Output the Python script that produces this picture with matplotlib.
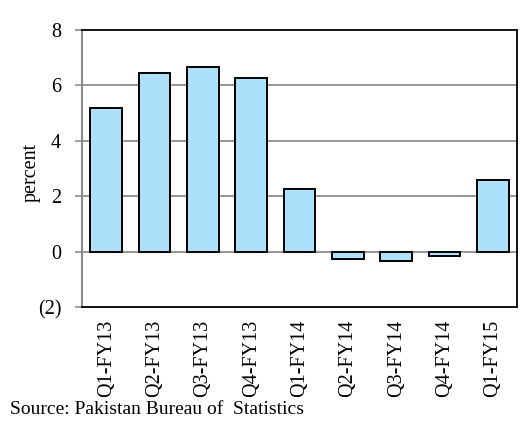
import matplotlib
matplotlib.use("Agg")
import matplotlib.pyplot as plt

quarters = ["Q1-FY13", "Q2-FY13", "Q3-FY13", "Q4-FY13", "Q1-FY14",
            "Q2-FY14", "Q3-FY14", "Q4-FY14", "Q1-FY15"]
growth = [5.2, 6.45, 6.65, 6.25, 2.25, -0.28, -0.35, -0.15, 2.6]
ytick_values = [-2, 0, 2, 4, 6, 8]
ytick_labels = ["(2)", "0", "2", "4", "6", "8"]

plt.rcParams["font.family"] = ["Liberation Serif", "DejaVu Serif"]

fig = plt.figure(figsize=(5.27, 4.21), dpi=100)
ax = fig.add_axes([0.1556, 0.2708, 0.981 - 0.1556, 0.9287 - 0.2708])

x = list(range(len(quarters)))
ax.bar(x, growth, width=0.65, color="#ADE1FB", edgecolor="black",
       linewidth=1.4, zorder=3)

ax.set_xlim(-0.5, len(quarters) - 0.5)
ax.set_ylim(-2, 8)
ax.set_yticks(ytick_values)
ax.set_yticklabels(ytick_labels, fontsize=14.5)
ax.set_xticks(x)
ax.set_xticklabels(quarters, rotation=90, fontsize=14.5)

for v in [0, 2, 4, 6]:
    ax.axhline(v, color="#8c8c8c", linewidth=1.3, zorder=1)

ax.tick_params(axis="x", length=0, pad=9)
ax.tick_params(axis="y", length=5, width=1.2, color="#8c8c8c", pad=10)

ax.spines["left"].set_color("#8c8c8c")
ax.spines["left"].set_linewidth(1.5)
for side in ["top", "right", "bottom"]:
    ax.spines[side].set_color("black")
    ax.spines[side].set_linewidth(1.3)

fig.text(31 / 527, 1 - 172 / 421, "percent", rotation=90, fontsize=14.5,
         ha="center", va="center")
fig.text(10 / 527, 1 - 410 / 421, "Source: Pakistan Bureau of  Statistics",
         fontsize=14, ha="left", va="center")

fig.savefig("out.png", dpi=100)
